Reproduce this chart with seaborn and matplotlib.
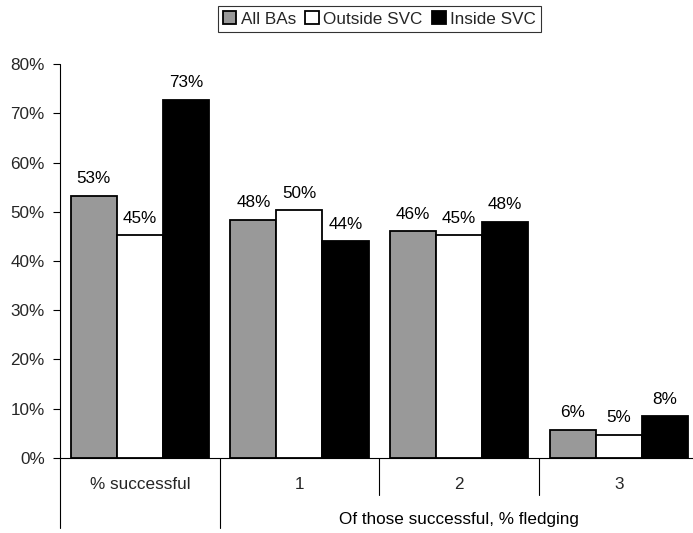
import matplotlib
matplotlib.use("Agg")
import matplotlib.pyplot as plt
from matplotlib.ticker import FuncFormatter
import pandas as pd
import seaborn as sns

# Nest success figures (percent)
groups = ["% successful", "1", "2", "3"]
series = ["All BAs", "Outside SVC", "Inside SVC"]
all_bas = [53.2, 48.4, 46.0, 5.6]
outside_svc = [45.2, 50.3, 45.2, 4.6]
inside_svc = [72.8, 44.0, 47.9, 8.4]
y_ticks = [0, 10, 20, 30, 40, 50, 60, 70, 80]
group_caption = "Of those successful, % fledging"

colors = ["#999999", "#ffffff", "#000000"]

df = pd.DataFrame({
    "group": groups * 3,
    "series": [series[0]] * 4 + [series[1]] * 4 + [series[2]] * 4,
    "value": all_bas + outside_svc + inside_svc,
})

sns.set_style("white")
plt.rcParams["font.family"] = ["Liberation Sans", "DejaVu Sans"]
fs = 12.3

fig = plt.figure(figsize=(6.93, 5.33), dpi=100)
ax = fig.add_axes([0.0866, 0.1413, 0.9214, 0.7381])

sns.barplot(data=df, x="group", y="value", hue="series", order=groups,
            hue_order=series, palette=colors, edgecolor="black",
            linewidth=1.3, width=0.865, saturation=1, ax=ax)

for cont in ax.containers:
    ax.bar_label(cont, fmt="{:.0f}%", padding=7, fontsize=fs, color="black")

ax.set_xlim(-0.5, 3.5)
ax.set_ylim(0, 80)
ax.set_yticks(y_ticks)
ax.yaxis.set_major_formatter(FuncFormatter(lambda v, p: f"{v:.0f}%"))
ax.tick_params(axis="y", left=True, direction="out", length=5, width=0.8,
               color="black", labelsize=fs, pad=6)
ax.tick_params(axis="x", bottom=False, length=0, labelsize=fs, pad=14)
ax.set_xlabel("")
ax.set_ylabel("")

for side in ["top", "right"]:
    ax.spines[side].set_visible(False)
ax.spines["bottom"].set_color("black")
ax.spines["bottom"].set_linewidth(0.8)
ax.spines["left"].set_visible(False)

# Category separators below the axis
tr = ax.get_xaxis_transform()
ax.plot([-0.5, -0.5], [1.0, -0.179], transform=tr, color="black", lw=0.8, clip_on=False)
ax.plot([0.5, 0.5], [0.0, -0.179], transform=tr, color="black", lw=0.8, clip_on=False)
for xs in [1.5, 2.5, 3.5]:
    ax.plot([xs, xs], [0.0, -0.095], transform=tr, color="black", lw=0.8, clip_on=False)

ax.text(2, -0.156, group_caption, transform=tr, ha="center", va="center",
        fontsize=fs, color="black")

leg = ax.legend(ncol=3, loc="lower center", bbox_to_anchor=(0.5, 1.082),
                borderaxespad=0, fontsize=fs, frameon=True, fancybox=False,
                edgecolor="black", handlelength=0.8, handleheight=0.8,
                handletextpad=0.25, columnspacing=0.55, borderpad=0.3)
leg.get_frame().set_linewidth(0.8)
for h in leg.legend_handles:
    h.set_linewidth(1.3)
    h.set_edgecolor("black")

fig.savefig("out.png", dpi=100)
